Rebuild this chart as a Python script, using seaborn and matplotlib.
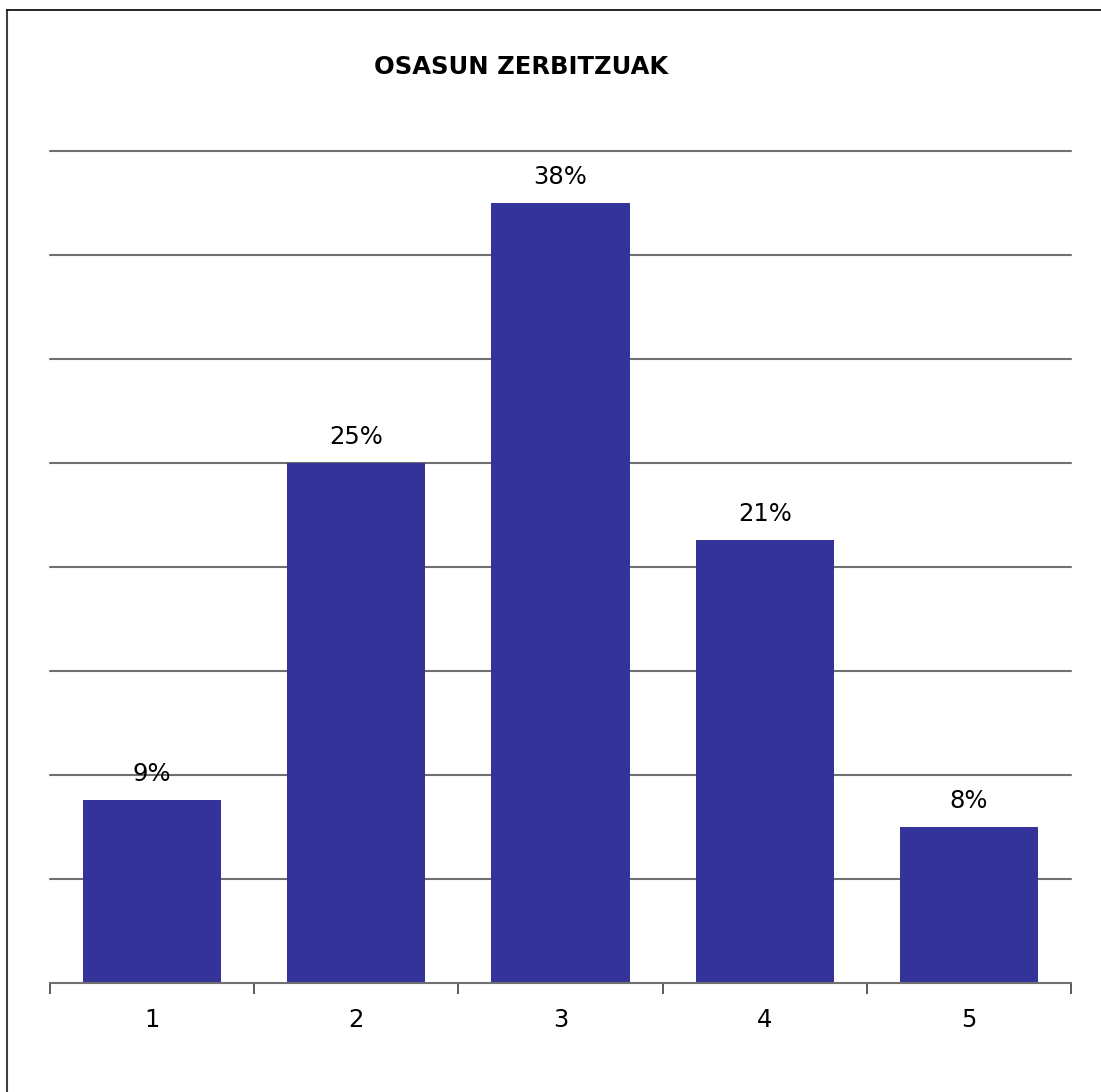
import pandas as pd
import matplotlib.pyplot as plt
import seaborn as sns
from matplotlib.lines import Line2D

# Datuak
kategoriak = ['1', '2', '3', '4', '5']
balioak = [8.8, 25.0, 37.5, 21.3, 7.5]
etiketak = ['9%', '25%', '38%', '21%', '8%']
izenburua = 'OSASUN ZERBITZUAK'

df = pd.DataFrame({'Kategoria': kategoriak, 'Balioa': balioak})

sns.set_style('white')
plt.rcParams['font.family'] = ['DejaVu Sans']
plt.rcParams['text.color'] = 'black'
plt.rcParams['xtick.color'] = 'black'

fig = plt.figure(figsize=(11.01, 10.92), dpi=100)
ax = fig.add_axes([50 / 1101, 109 / 1092, 1021 / 1101, 832 / 1092])

sns.barplot(x='Kategoria', y='Balioa', data=df, color='#333399', saturation=1,
            width=0.676, linewidth=0, ax=ax, zorder=3)

# Ardatzak
ax.set_ylim(0, 40)
ax.set_xlim(-0.5, 4.5)
ax.set_yticks(range(5, 45, 5))
ax.yaxis.grid(True, color='#707070', linewidth=1.5, zorder=0)
for gl in ax.get_ygridlines():
    gl.set_clip_on(False)
ax.set_yticklabels([])
ax.tick_params(axis='y', length=0, left=False)
for s in ['left', 'right', 'top']:
    ax.spines[s].set_visible(False)
ax.spines['bottom'].set_color('#707070')
ax.spines['bottom'].set_linewidth(1.5)
ax.spines['bottom'].set_zorder(4)

# Kategorien arteko marrak
ax.set_xticks([i - 0.5 for i in range(6)], minor=False)
ax.set_xticklabels([])
ax.tick_params(axis='x', which='major', bottom=True, direction='out', length=8,
               width=1.2, color='#404040')
ax.set_xticks(range(5), minor=True)
ax.set_xticklabels(kategoriak, minor=True, fontsize=17.5)
ax.tick_params(axis='x', which='minor', bottom=True, length=0, pad=18)
ax.set_xlabel('')
ax.set_ylabel('')

# Balioen etiketak
for i, (v, t) in enumerate(zip(balioak, etiketak)):
    ax.text(i, v + 0.65, t, ha='center', va='bottom', fontsize=17.5)

fig.text(521 / 1101, 1 - 67 / 1092, izenburua, ha='center', va='center',
         fontsize=17.5, fontweight='bold')

# Kanpoko ertza
fig.add_artist(Line2D([7 / 1101, 7 / 1101], [0, 1 - 10 / 1092], color='#404040', linewidth=1.5))
fig.add_artist(Line2D([7 / 1101, 1], [1 - 10 / 1092, 1 - 10 / 1092], color='black', linewidth=1.2))

plt.savefig('out.png', dpi=100)
